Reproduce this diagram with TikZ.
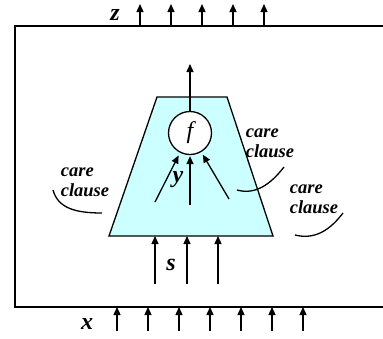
\documentclass[tikz,border=0pt]{standalone}
\usepackage{fontspec}
\setmainfont{Liberation Serif}
\usetikzlibrary{arrows.meta}
\definecolor{boxcyan}{HTML}{CCFFFF}
\tikzset{
  arr/.style={line width=1.3pt,-{Triangle[length=8pt,width=7pt]}},
  lbl/.style={font=\fontsize{24}{26}\selectfont\bfseries\itshape,inner sep=0pt},
  care/.style={font=\fontsize{18.5}{20}\selectfont\bfseries\itshape,align=left,inner sep=0pt},
  hook/.style={line width=1.3pt}
}
\begin{document}
\begin{tikzpicture}[x=1pt,y=-1pt]
\useasboundingbox (0,0) rectangle (383,338);
% outer box, open on the right
\draw[line width=1.3pt] (384,26) -- (15,26) -- (15,307) -- (384,307);
% trapezium
\draw[line width=1.3pt,fill=boxcyan] (109,236) -- (157,97) -- (227,97) -- (273,236) -- cycle;
\node[circle,draw,line width=1.3pt,fill=white,minimum size=43pt,inner sep=0pt,
  font=\fontsize{24}{26}\selectfont\itshape] (f) at (190,133) {f};
\coordinate (fout) at (190,64);
\draw[arr] (f.north) -- (fout);
% inner signals y
\coordinate (yl) at (155,202);
\coordinate (ym) at (190,205);
\coordinate (yr) at (229,199);
\draw[arr,shorten >=3pt] (yl) -- (f);
\draw[arr,shorten >=1pt] (ym) -- (f);
\draw[arr,shorten >=3pt] (yr) -- (f);
\node[lbl] (ylab) at (178,180) {y};
% signals s
\foreach \i/\xx in {1/155,2/187,3/218}{
  \coordinate (s\i) at (\xx,284);
  \coordinate (st\i) at (\xx,236);
  \draw[arr] (s\i) -- (st\i);
}
\node[lbl] (slab) at (171,265) {s};
% inputs x
\foreach \i in {0,...,6}{
  \coordinate (x\i) at (117+31*\i,331);
  \coordinate (xt\i) at (117+31*\i,307);
  \draw[arr] (x\i) -- (xt\i);
}
\node[lbl] (xlab) at (87,324) {x};
% outputs z
\foreach \i in {0,...,4}{
  \coordinate (z\i) at (140+31*\i,26);
  \coordinate (zt\i) at (140+31*\i,4);
  \draw[arr] (z\i) -- (zt\i);
}
\node[lbl] (zlab) at (115,15) {z};
% care clauses
\node[care] (cl) at (85,182) {care\\clause};
\node[care] (cr) at (270,143) {care\\clause};
\node[care] (crr) at (314,199) {care\\clause};
\draw[hook] (53,190) .. controls (58,208) and (75,213) .. (102,213);
\draw[hook] (284,167) .. controls (270,185) and (255,195) .. (237,190);
\draw[hook] (343,213) .. controls (330,230) and (315,240) .. (295,235);
\end{tikzpicture}
\end{document}
